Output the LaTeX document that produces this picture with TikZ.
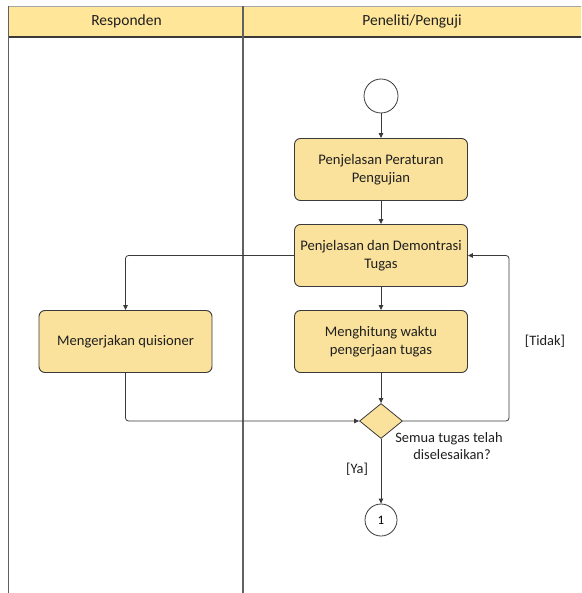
\documentclass[tikz,border=0pt]{standalone}
\usepackage{fontspec}
\setmainfont{Carlito}
\usetikzlibrary{shapes.geometric,arrows.meta}
\definecolor{lanefill}{HTML}{FFE699}
\definecolor{actfill}{HTML}{FBE29C}
\definecolor{edge}{HTML}{3A3A3A}
\tikzset{
  actbox/.style={draw=edge,line width=0.9pt,fill=actfill,rounded corners=6pt,
    minimum width=173pt,minimum height=62pt,align=center,font=\fontsize{14.6}{17.5}\selectfont,text=black!88},
  flow/.style={draw=edge,line width=0.8pt,rounded corners=3pt,-{Triangle[length=5pt,width=4.5pt]}},
  startnode/.style={circle,draw=edge,line width=0.8pt,fill=white,minimum size=34pt,inner sep=0pt},
  connnode/.style={circle,draw=edge,line width=0.8pt,fill=white,minimum size=32pt,inner sep=0pt,font=\fontsize{13}{15}\selectfont},
  decision/.style={diamond,draw=edge,line width=0.8pt,fill=actfill,minimum width=43pt,minimum height=35pt,inner sep=0pt,aspect=1.25},
  lbl/.style={font=\fontsize{14.4}{17.5}\selectfont,text=black!88,align=center},
  lanetitle/.style={font=\fontsize{15.5}{18}\selectfont,text=black!88}
}
\begin{document}
\begin{tikzpicture}[x=1pt,y=-1pt]
\useasboundingbox (0,0) rectangle (581,593);
\clip (0,0) rectangle (581,593);
% swimlane frame
\fill[white] (0,0) rectangle (581,593);
\fill[lanefill] (8,6) rectangle (620,37);
\draw[gray!70,line width=0.6pt] (8,6) -- (620,6);
\draw[edge,line width=1.4pt] (8,37) -- (620,37);
\draw[edge!80,line width=0.8pt] (8,6) -- (8,620);
\draw[edge!80,line width=1.1pt] (243,6) -- (243,620);
\node[lanetitle] (laneA) at (126.5,21.5) {Responden};
\node[lanetitle] (laneB) at (412,21.5) {Peneliti/Penguji};

% activities
\node[startnode] (start) at (381,96) {};
\node[actbox] (rules) at (381,169.5) {Penjelasan Peraturan\\Pengujian};
\node[actbox] (demo) at (381,255.5) {Penjelasan dan Demontrasi\\Tugas};
\node[actbox] (time) at (381,341.5) {Menghitung waktu\\pengerjaan tugas};
\node[actbox] (quis) at (125.5,341.5) {Mengerjakan quisioner};
\node[decision] (done) at (381,421) {};
\node[connnode] (next) at (381,520) {1};

% connectors
\draw[flow] (start) -- (rules);
\draw[flow] (rules) -- (demo);
\draw[flow] (demo) -- (time);
\draw[flow] (time) -- (done);
\draw[flow] (demo.west) -| (quis.north);
\draw[flow] (quis.south) |- (done.west);
\draw[flow] (done.east) -- (509,421) |- (demo.east);
\draw[flow] (done) -- (next);

% labels
\node[lbl] (ask) at (449,446) {Semua tugas telah\\\hspace*{6pt}diselesaikan?};
\node[lbl] (no) at (545,341) {[Tidak]};
\node[lbl] (yes) at (357,469) {[Ya]};
\end{tikzpicture}
\end{document}
